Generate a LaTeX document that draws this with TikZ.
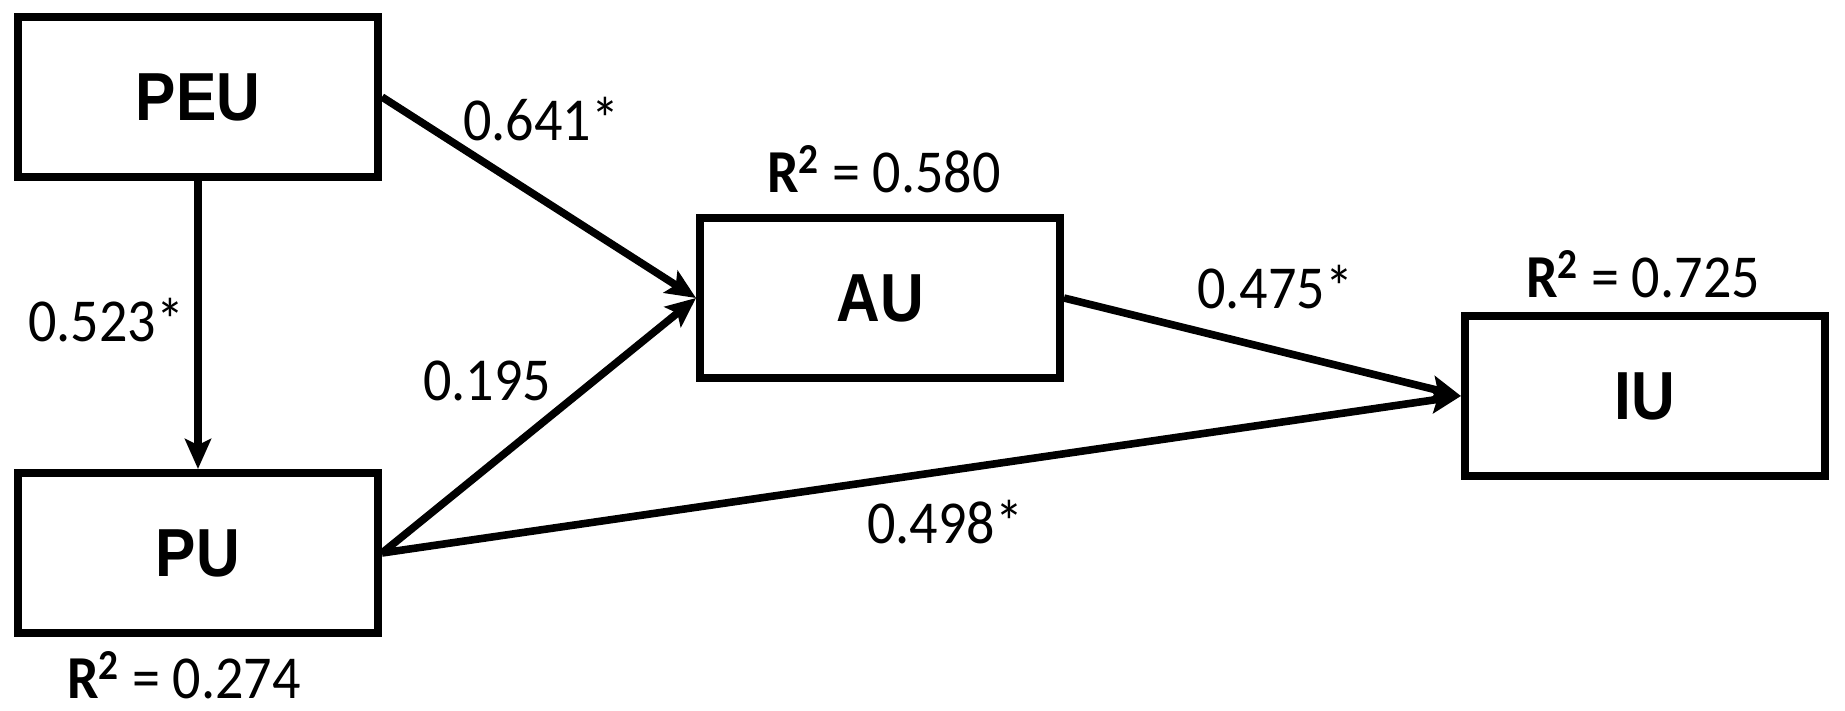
\documentclass[tikz,border=0pt]{standalone}
\usepackage{fontspec}
\setmainfont{Carlito}[FakeStretch=0.92]
\newfontfamily\boxfont{Liberation Sans}[FakeStretch=0.89]
\usetikzlibrary{arrows.meta}
\begin{document}
\begin{tikzpicture}[x=0.5pt,y=-0.5pt,
  box/.style={draw=black,line width=4pt,minimum width=180pt,minimum height=80pt,inner sep=0pt,font=\boxfont\fontsize{34pt}{40pt}\selectfont\bfseries},
  conn/.style={line width=3.8pt,-{Stealth[length=15pt,width=13pt,inset=3pt]}},
  lab/.style={anchor=base,inner sep=0pt,font=\fontsize{30.5pt}{36pt}\selectfont}]
\useasboundingbox (0,0) rectangle (1845,711);
\node[box] (peu) at (198,97) {PEU};
\node[box] (pu) at (198,553) {PU};
\node[box] (au) at (880,298) {AU};
\node[box] (iu) at (1645,396) {IU};
\draw[conn] (peu.south) -- (pu.north);
\draw[conn] (peu.east) -- (au.west);
\draw[conn] (pu.east) -- (au.west);
\draw[conn] (au.east) -- (iu.west);
\draw[conn] (pu.east) -- (iu.west);
\node[lab] (l1) at (541,141) {0.641*};
\node[lab] (l2) at (106,341) {0.523*};
\node[lab] (l3) at (487,400) {0.195};
\node[lab] (l4) at (1275,308) {0.475*};
\node[lab] (l5) at (945,543) {0.498*};
\node[lab] (r1) at (184,698) {\textbf{R\textsuperscript{2}} = 0.274};
\node[lab] (r2) at (884,192) {\textbf{R\textsuperscript{2}} = 0.580};
\node[lab] (r3) at (1643,297) {\textbf{R\textsuperscript{2}} = 0.725};
\end{tikzpicture}
\end{document}
